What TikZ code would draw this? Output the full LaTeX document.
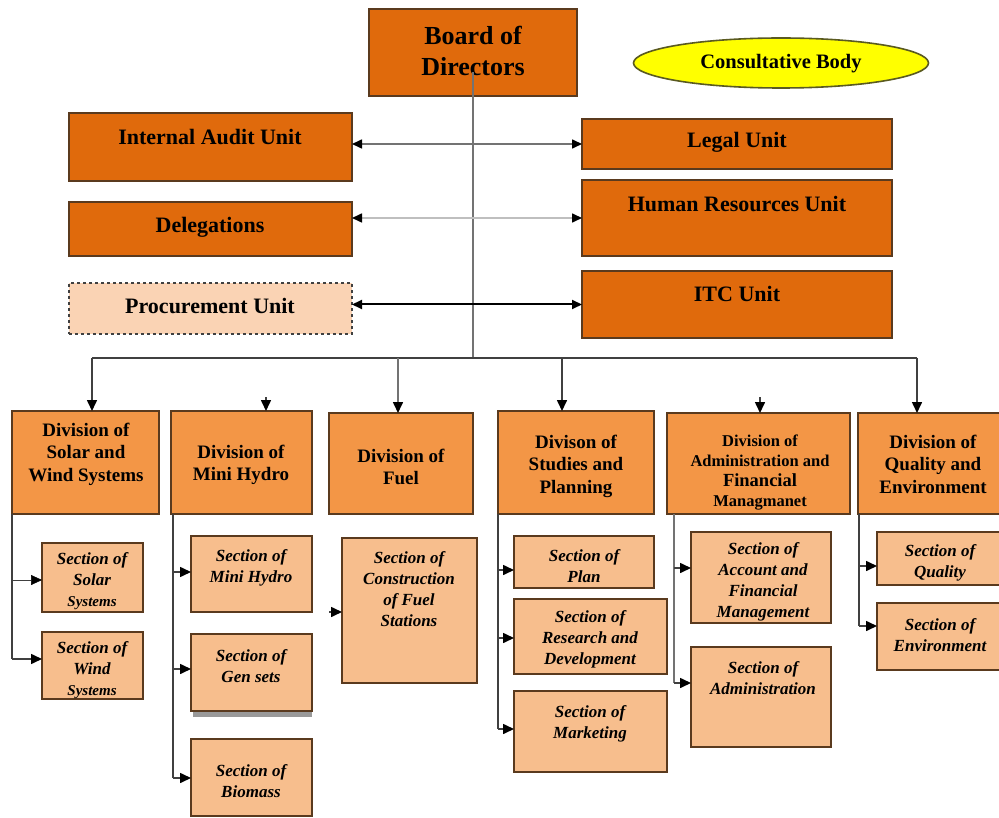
\documentclass[tikz,border=0pt]{standalone}
\usepackage{fontspec}
\setmainfont{Liberation Serif}
\usetikzlibrary{arrows.meta,shapes.geometric,calc}
\definecolor{orD}{HTML}{E06A0C}
\definecolor{orM}{HTML}{F39646}
\definecolor{orL}{HTML}{F7BE8D}
\definecolor{orP}{HTML}{FAD3B4}
\definecolor{brd}{HTML}{5A3A1E}
\definecolor{lnk}{HTML}{404040}
\definecolor{ylw}{HTML}{FFFF00}
\definecolor{olv}{HTML}{5A5A20}
\newcommand\mkbox[6]{\node[#2, minimum width={#5pt-#3pt}, minimum height={#6pt-#4pt}] (#1) at ({(#3+#5)/2},{(#4+#6)/2}) {};}
\tikzset{
  bx/.style={draw=brd, line width=2pt, inner sep=0pt, outer sep=0pt},
  darkbox/.style={bx, fill=orD},
  divbox/.style={bx, fill=orM},
  secbox/.style={bx, fill=orL, line width=1.8pt},
  procbox/.style={bx, fill=orP, draw=lnk, dashed, line width=1.5pt},
  txt/.style={align=center, inner sep=0pt, text=black},
  boardtxt/.style={txt, font=\fontsize{26}{31}\selectfont\bfseries},
  unittxt/.style={txt, font=\fontsize{22}{26}\selectfont\bfseries},
  divtxt/.style={txt, font=\fontsize{19}{22.5}\selectfont\bfseries},
  admtxt/.style={txt, font=\fontsize{16.5}{20}\selectfont\bfseries},
  sectxt/.style={txt, font=\fontsize{17}{21}\selectfont\bfseries\itshape},
  arr/.style={-{Triangle[length=11pt,width=10pt,color=black]}, line width=1.6pt, draw=lnk},
  trunk/.style={line width=1.6pt, draw=lnk},
  biarr/.style={{Triangle[length=10pt,width=9pt,color=black]}-{Triangle[length=10pt,width=9pt,color=black]}, line width=1.6pt},
}
\begin{document}
\begin{tikzpicture}[x=1pt,y=-1pt]
\useasboundingbox (0,0) rectangle (999,818);
\fill[white] (0,0) rectangle (999,818);

% top level
\mkbox{bod}{darkbox}{369}{9}{577}{96}
\node[boardtxt] (bodt) at (473,51) {Board of\\Directors};
\node[ellipse, draw=olv, line width=1.6pt, fill=ylw, minimum width=295pt, minimum height=50pt, inner sep=0pt] (cb) at (781,63) {};
\node[txt, font=\fontsize{20.5}{24}\selectfont\bfseries] (cbt) at (781,64) {Consultative Body};

\mkbox{ia}{darkbox}{69}{113}{352}{181}
\node[unittxt] (iat) at (210,137) {Internal Audit Unit};
\mkbox{legal}{darkbox}{582}{119}{892}{169}
\node[unittxt] (legalt) at (737,142) {Legal Unit};
\mkbox{del}{darkbox}{69}{202}{352}{256}
\node[unittxt] (delt) at (210,227) {Delegations};
\mkbox{hr}{darkbox}{582}{180}{892}{256}
\node[unittxt] (hrt) at (737,204) {Human Resources Unit};
\mkbox{proc}{procbox}{69}{283}{352}{334}
\node[unittxt] (proct) at (210,306) {Procurement Unit};
\mkbox{itc}{darkbox}{582}{271}{892}{338}
\node[unittxt] (itct) at (737,294) {ITC Unit};

% divisions
\mkbox{sw}{divbox}{12}{411}{159}{514}
\node[divtxt] (swt) at (86,454) {Division of\\Solar and\\Wind Systems};
\mkbox{mh}{divbox}{171}{411}{312}{514}
\node[divtxt] (mht) at (241,465) {Division of\\Mini Hydro};
\mkbox{fu}{divbox}{329}{413}{473}{514}
\node[divtxt] (fut) at (401,467) {Division of\\Fuel};
\mkbox{st}{divbox}{498}{411}{654}{514}
\node[divtxt] (stt) at (576,466) {Divison of\\Studies and\\Planning};
\mkbox{ad}{divbox}{667}{413}{850}{514}
\node[admtxt] (adt) at (760,473) {Division of\\Administration and\\{\fontsize{18.5}{20}\selectfont Financial}\\Managmanet};
\mkbox{qe}{divbox}{858}{413}{1010}{514}
\node[divtxt] (qet) at (933,464) {Division of\\Quality and\\Environment};

% sections
\mkbox{solsys}{secbox}{42}{543}{143}{612}
\begin{scope}
\clip (43,544) rectangle (142,611);
\node[sectxt, anchor=north] (solsyst) at (92,552) {Section of\\Solar\\{\fontsize{15}{15}\selectfont Systems}};
\end{scope}
\mkbox{wind}{secbox}{42}{632}{143}{699}
\begin{scope}
\clip (43,633) rectangle (142,698);
\node[sectxt, anchor=north] (windt) at (92,641) {Section of\\Wind\\{\fontsize{15}{15}\selectfont Systems}};
\end{scope}
\fill[gray!80] (193,711) rectangle (312,717);
\mkbox{mhs}{secbox}{191}{536}{312}{612}
\node[sectxt] (mhst) at (251,568) {Section of\\Mini Hydro};
\mkbox{gen}{secbox}{191}{634}{312}{711}
\node[sectxt] (gent) at (251,666) {Section of\\Gen sets};
\mkbox{bio}{secbox}{191}{739}{312}{816}
\node[sectxt] (biot) at (251,781) {Section of\\Biomass};
\mkbox{con}{secbox}{342}{538}{477}{683}
\node[sectxt] (cont) at (409,589) {Section of\\Construction\\of Fuel\\Stations};
\mkbox{plan}{secbox}{514}{536}{654}{588}
\node[sectxt] (plant) at (584,566) {Section of\\Plan};
\mkbox{rd}{secbox}{514}{599}{667}{674}
\node[sectxt] (rdt) at (590,639) {Section of\\Research and\\Development};
\mkbox{mkt}{secbox}{514}{691}{667}{772}
\node[sectxt] (mktt) at (590,724) {Section of\\Marketing};
\mkbox{acc}{secbox}{691}{532}{831}{623}
\node[sectxt] (acct) at (763,582) {Section of\\Account and\\Financial\\Management};
\mkbox{adm}{secbox}{691}{647}{831}{747}
\node[sectxt] (admt) at (763,678) {Section of\\Administration};
\mkbox{qs}{secbox}{877}{532}{1010}{585}
\begin{scope}
\clip (878,533) rectangle (999,584);
\node[sectxt, anchor=north] (qst) at (940,544) {Section of\\Quality};
\end{scope}
\mkbox{env}{secbox}{877}{603}{1010}{670}
\node[sectxt] (envt) at (940,635) {Section of\\Environment};

% main trunk and bus
\coordinate (top) at (473,72);
\coordinate (busM) at (473,358);
\coordinate (busL) at (92,358);
\coordinate (busR) at (917,358);
\draw[line width=1.4pt, draw=gray!90!black] (top) -- (busM);
\draw[trunk] (busL) -- (busR);

% unit links
\draw[biarr, draw=gray!90!black] (ia.east |- legal.west) -- (legal.west);
\draw[biarr, draw=gray!50] (del.east |- hr.west) -- (hr.west);
\draw[biarr, draw=black, line width=2pt] (proc.east |- itc.west) -- (itc.west);

% drops to divisions
\draw[arr] (busL) -- (busL |- sw.north);
\coordinate (mhtop) at (266,397);
\draw[arr] (mhtop) -- (mhtop |- mh.north);
\coordinate (futop) at (398,358);
\draw[arr, draw=gray!90!black] (futop) -- (futop |- fu.north);
\coordinate (sttop) at (562,358);
\draw[arr] (sttop) -- (sttop |- st.north);
\coordinate (adtop) at (760,397);
\draw[arr] (adtop) -- (adtop |- ad.north);
\draw[arr] (busR) -- (busR |- qe.north);

% solar & wind
\coordinate (s0) at (12,514);
\coordinate (s1) at (12,580);
\coordinate (s2) at (12,659);
\draw[trunk] (s0) -- (s2);
\draw[arr, line width=0.6pt] (s1) -- (s1 -| solsys.west);
\draw[arr] (s2) -- (s2 -| wind.west);

% mini hydro
\coordinate (m0) at (173,514);
\coordinate (m1) at (173,572);
\coordinate (m2) at (173,669);
\coordinate (m3) at (173,778);
\draw[trunk] (m0) -- (m3);
\draw[arr] (m1) -- (m1 -| mhs.west);
\draw[arr] (m2) -- (m2 -| gen.west);
\draw[arr] (m3) -- (m3 -| bio.west);

% fuel
\coordinate (f1) at (329,612);
\draw[arr] (f1) -- (f1 -| con.west);

% studies
\coordinate (p0) at (498,514);
\coordinate (p1) at (498,570);
\coordinate (p2) at (498,638);
\coordinate (p3) at (498,729);
\draw[trunk] (p0) -- (p3);
\draw[arr] (p1) -- (p1 -| plan.west);
\draw[arr] (p2) -- (p2 -| rd.west);
\draw[arr] (p3) -- (p3 -| mkt.west);

% administration
\coordinate (a0) at (674,514);
\coordinate (a1) at (674,568);
\coordinate (a2) at (674,683);
\draw[trunk, draw=gray!90!black] (a0) -- (a2);
\draw[arr] (a1) -- (a1 -| acc.west);
\draw[arr] (a2) -- (a2 -| adm.west);

% quality
\coordinate (q0) at (859,514);
\coordinate (q1) at (859,566);
\coordinate (q2) at (859,626);
\draw[trunk] (q0) -- (q2);
\draw[arr] (q1) -- (q1 -| qs.west);
\draw[arr] (q2) -- (q2 -| env.west);
\end{tikzpicture}
\end{document}
